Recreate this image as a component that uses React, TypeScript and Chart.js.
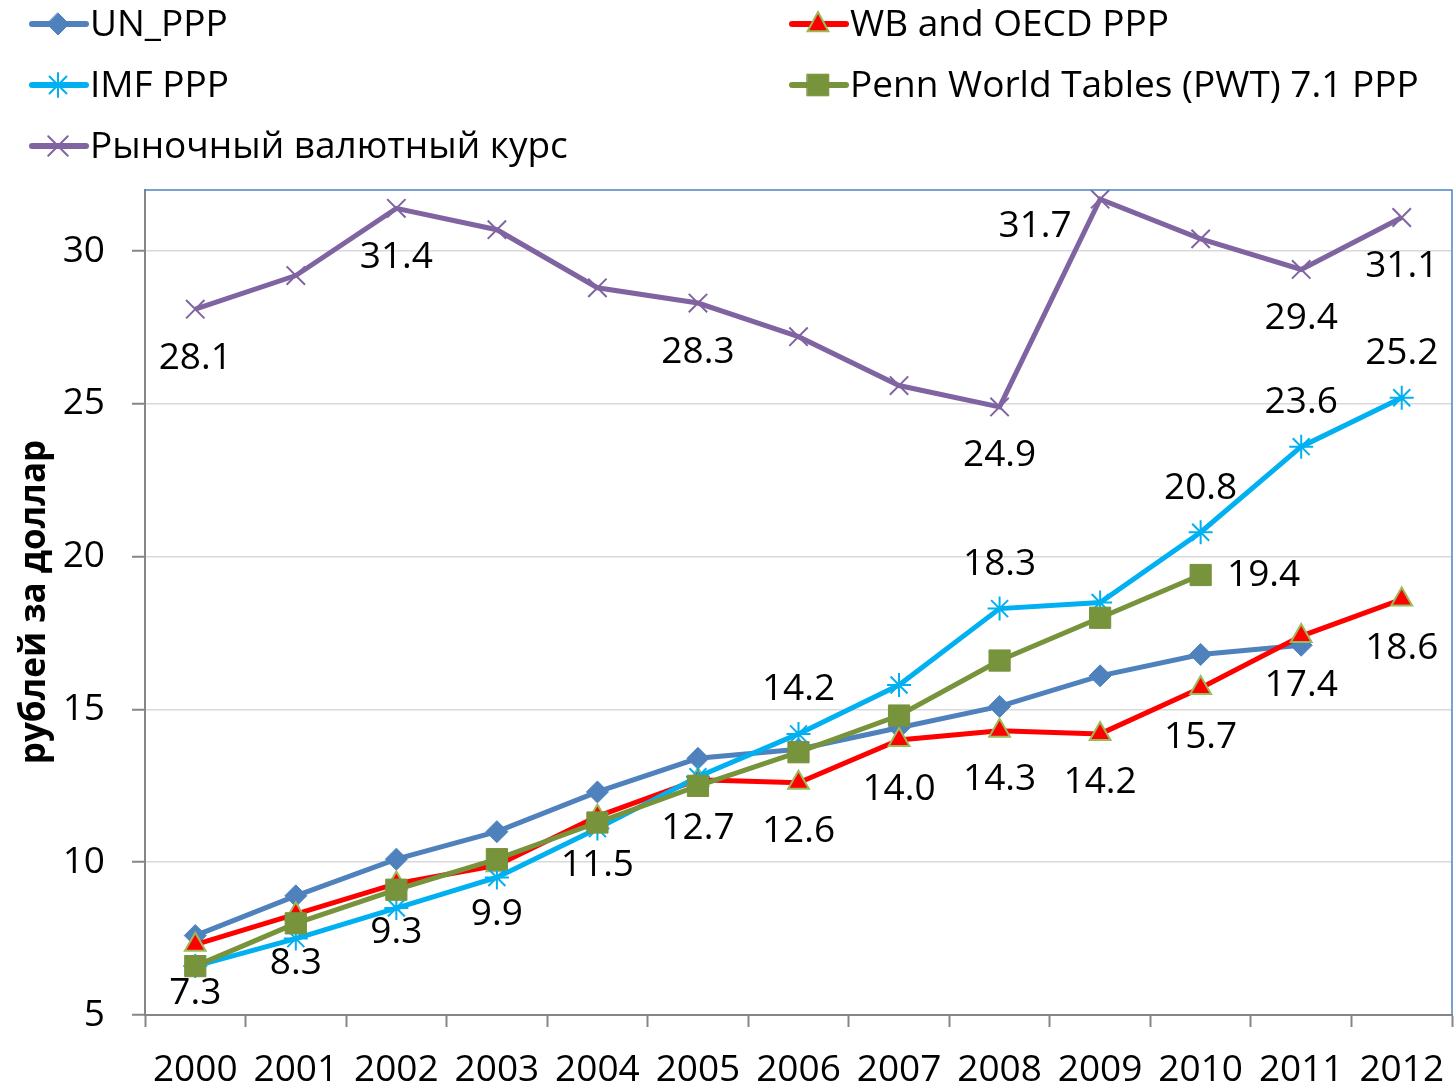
import React, { useEffect, useRef } from 'react';
import { Chart, registerables } from 'chart.js';

Chart.register(...registerables);

// ---------- data ----------
const years = ['2000', '2001', '2002', '2003', '2004', '2005', '2006', '2007', '2008', '2009', '2010', '2011', '2012'];
const unPpp = [7.6, 8.9, 10.1, 11.0, 12.3, 13.4, 13.7, 14.4, 15.1, 16.1, 16.8, 17.1, null];
const wbOecdPpp = [7.3, 8.3, 9.3, 9.9, 11.5, 12.7, 12.6, 14.0, 14.3, 14.2, 15.7, 17.4, 18.6];
const imfPpp = [6.6, 7.5, 8.5, 9.5, 11.1, 12.8, 14.2, 15.8, 18.3, 18.5, 20.8, 23.6, 25.2];
const pwtPpp = [6.6, 8.0, 9.1, 10.1, 11.3, 12.5, 13.6, 14.8, 16.6, 18.0, 19.4, null, null];
const marketRate = [28.1, 29.2, 31.4, 30.7, 28.8, 28.3, 27.2, 25.6, 24.9, 31.7, 30.4, 29.4, 31.1];
const seriesNames = ['UN_PPP', 'WB and OECD PPP', 'IMF PPP', 'Penn World Tables (PWT) 7.1 PPP', 'Рыночный валютный курс'];
const yTicks = [5, 10, 15, 20, 25, 30];
const yTitle = 'рублей за доллар';

// which points carry a value label, and where
const B = 'below', A = 'above', L = 'left', R = 'right', N = null;
const labelPos: (string | null)[][] = [
  [N, N, N, N, N, N, N, N, N, N, N, N, N],
  [B, B, B, B, B, B, B, B, B, B, B, B, B],
  [N, N, N, N, N, N, A, N, A, N, A, A, A],
  [N, N, N, N, N, N, N, N, N, N, R, N, N],
  [B, N, B, N, N, B, N, N, B, L, N, B, B],
];

const FONT = '"Open Sans", "DejaVu Sans", sans-serif';
const FS = 37;

function drawMarker(ctx: CanvasRenderingContext2D, style: string, x: number, y: number, r: number, fill: string, stroke: string, lw: number) {
  ctx.save();
  ctx.fillStyle = fill;
  ctx.strokeStyle = stroke;
  ctx.lineWidth = lw;
  ctx.beginPath();
  if (style === 'rectRot') {
    ctx.moveTo(x, y - r); ctx.lineTo(x + r, y); ctx.lineTo(x, y + r); ctx.lineTo(x - r, y); ctx.closePath();
    ctx.fill(); ctx.stroke();
  } else if (style === 'triangle') {
    ctx.moveTo(x, y - r); ctx.lineTo(x + r * 0.87, y + r * 0.6); ctx.lineTo(x - r * 0.87, y + r * 0.6); ctx.closePath();
    ctx.fill(); ctx.stroke();
  } else if (style === 'rect') {
    const s = r * 0.72;
    ctx.rect(x - s, y - s, 2 * s, 2 * s);
    ctx.fill(); ctx.stroke();
  } else if (style === 'star') {
    for (let k = 0; k < 4; k++) {
      const a = (k * Math.PI) / 4;
      ctx.moveTo(x + Math.sin(a) * r, y - Math.cos(a) * r);
      ctx.lineTo(x - Math.sin(a) * r, y + Math.cos(a) * r);
    }
    ctx.stroke();
  } else if (style === 'crossRot') {
    const d = r * 0.75;
    ctx.moveTo(x - d, y - d); ctx.lineTo(x + d, y + d);
    ctx.moveTo(x + d, y - d); ctx.lineTo(x - d, y + d);
    ctx.stroke();
  }
  ctx.restore();
}

const styles = [
  { color: '#4F81BD', point: 'rectRot', fill: '#4F81BD', stroke: '#4F81BD', r: 11, bw: 1 },
  { color: '#FF0000', point: 'triangle', fill: '#FF0000', stroke: '#9BBB59', r: 12, bw: 2 },
  { color: '#00B0F0', point: 'star', fill: '#00B0F0', stroke: '#00B0F0', r: 12, bw: 2 },
  { color: '#77933C', point: 'rect', fill: '#77933C', stroke: '#77933C', r: 15, bw: 1 },
  { color: '#8064A2', point: 'crossRot', fill: '#8064A2', stroke: '#8064A2', r: 13, bw: 2 },
];

const legendPlugin = {
  id: 'customLegend',
  afterDraw(chart: any) {
    const ctx: CanvasRenderingContext2D = chart.ctx;
    seriesNames.forEach((name, i) => {
      const st = styles[i];
      const col = i % 2;
      const row = Math.floor(i / 2);
      const x0 = col ? 790 : 30;
      const y = 24 + row * 61;
      ctx.save();
      ctx.strokeStyle = st.color;
      ctx.lineWidth = 6;
      ctx.lineCap = 'round';
      ctx.beginPath();
      ctx.moveTo(x0 + 2, y);
      ctx.lineTo(x0 + 56, y);
      ctx.stroke();
      drawMarker(ctx, st.point, x0 + 28, y, st.r, st.fill, st.stroke, st.bw);
      ctx.fillStyle = '#000';
      ctx.font = `${FS}px ${FONT}`;
      ctx.textAlign = 'left';
      ctx.textBaseline = 'middle';
      ctx.fillText(name, x0 + 60, y + 1);
      ctx.restore();
    });
  },
};

const framePlugin = {
  id: 'frameAndTitle',
  afterDraw(chart: any) {
    const ctx: CanvasRenderingContext2D = chart.ctx;
    const a = chart.chartArea;
    ctx.save();
    ctx.strokeStyle = '#4F81BD';
    ctx.lineWidth = 1.5;
    ctx.beginPath();
    ctx.moveTo(a.left, a.top);
    ctx.lineTo(a.right, a.top);
    ctx.lineTo(a.right, a.bottom);
    ctx.stroke();
    ctx.translate(35, 602);
    ctx.rotate(-Math.PI / 2);
    ctx.fillStyle = '#000';
    ctx.font = `bold 35px ${FONT}`;
    ctx.textAlign = 'center';
    ctx.textBaseline = 'middle';
    ctx.fillText(yTitle, 0, 0);
    ctx.restore();
  },
};

const labelPlugin = {
  id: 'valueLabels',
  afterDatasetsDraw(chart: any) {
    const ctx: CanvasRenderingContext2D = chart.ctx;
    ctx.save();
    ctx.fillStyle = '#000';
    ctx.font = `${FS}px ${FONT}`;
    ctx.textAlign = 'center';
    ctx.textBaseline = 'middle';
    chart.data.datasets.forEach((ds: any, i: number) => {
      const pos = labelPos[i];
      const meta = chart.getDatasetMeta(i);
      meta.data.forEach((pt: any, j: number) => {
        const p = pos[j];
        const v = ds.data[j];
        if (!p || v == null) return;
        let dx = 0, dy = 0;
        if (p === 'below') dy = 49;
        else if (p === 'above') dy = -44;
        else if (p === 'right') dx = 63;
        else if (p === 'left') { dx = -65; dy = 27; }
        ctx.fillText(Number(v).toFixed(1), pt.x + dx, pt.y + dy);
      });
    });
    ctx.restore();
  },
};

export default function App() {
  const ref = useRef<HTMLCanvasElement>(null);
  useEffect(() => {
    document.body.style.margin = '0';
    const canvas = ref.current!;
    const series = [unPpp, wbOecdPpp, imfPpp, pwtPpp, marketRate];
    const chart = new Chart(canvas, {
      type: 'line',
      data: {
        labels: years,
        datasets: series.map((d, i) => ({
          label: seriesNames[i],
          data: d,
          borderColor: styles[i].color,
          backgroundColor: styles[i].fill,
          borderWidth: 5,
          tension: 0,
          pointStyle: styles[i].point as any,
          pointRadius: styles[i].r,
          pointBackgroundColor: styles[i].fill,
          pointBorderColor: styles[i].stroke,
          pointBorderWidth: styles[i].bw,
          order: 5 - i,
        })),
      },
      plugins: [legendPlugin, framePlugin, labelPlugin],
      options: {
        responsive: false,
        animation: false,
        events: [],
        layout: { autoPadding: false, padding: { top: 190, right: 3, left: 0, bottom: 0 } },
        plugins: { legend: { display: false }, tooltip: { enabled: false }, title: { display: false } },
        scales: {
          x: {
            type: 'category',
            offset: true,
            grid: { offset: true, drawOnChartArea: false, drawTicks: true, tickLength: 12, tickColor: '#868686', tickWidth: 2, color: '#868686' },
            border: { display: true, color: '#868686', width: 2 },
            ticks: { color: '#000', font: { family: FONT, size: FS }, padding: 21, maxRotation: 0, autoSkip: false },
            afterFit(scale: any) {
              scale.height = 70;
              scale.paddingLeft = 0;
              scale.paddingRight = 0;
            },
          },
          y: {
            min: 5,
            max: 32,
            afterBuildTicks(scale: any) { scale.ticks = yTicks.map((v) => ({ value: v })); },
            grid: { color: '#D9D9D9', lineWidth: 1.5, drawTicks: true, tickLength: 13, tickColor: '#868686', tickWidth: 2 },
            border: { display: true, color: '#868686', width: 2 },
            ticks: { color: '#000', font: { family: FONT, size: FS }, padding: 27 },
            afterFit(scale: any) {
              scale.width = 145;
              scale.paddingTop = 0;
              scale.paddingBottom = 0;
            },
          },
        },
      },
    } as any);
    return () => chart.destroy();
  }, []);
  return <canvas ref={ref} width={1455} height={1085} style={{ display: 'block' }} />;
}
